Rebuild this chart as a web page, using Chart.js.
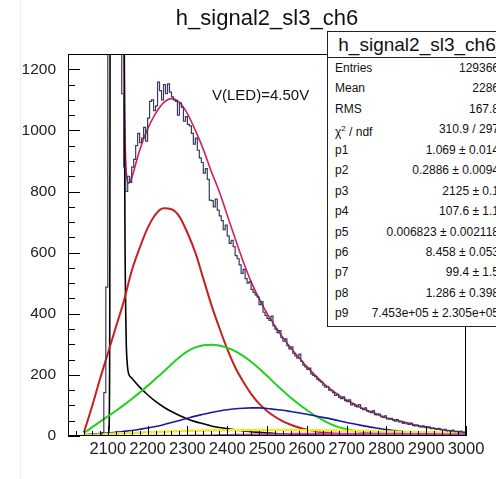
<!DOCTYPE html>
<html>
<head>
<meta charset="utf-8">
<script src="https://cdn.jsdelivr.net/npm/chart.js@4.4.0/dist/chart.umd.min.js"></script>
<style>
  html, body { margin: 0; padding: 0; background: #fff; overflow: hidden; }
  #page { position: relative; width: 496px; height: 479px; font-family: "Liberation Sans", Arial, sans-serif; color: #111; }
  #graphe { position: absolute; left: 0; top: 0; }
  #bord { position: absolute; left: 20px; top: 0; width: 0; height: 479px; border-left: 1px solid #ececec; }
  #titre { position: absolute; left: 0; top: 5px; width: 534px; text-align: center; font-size: 22px; }
  #vled { position: absolute; left: 212px; top: 86px; font-size: 15px; }
  #stats { position: absolute; left: 327px; top: 31px; width: 178px; height: 294px; border: 1px solid #222; background: #fff; }
  #stats .entete { height: 25px; line-height: 25px; border-bottom: 1px solid #222; text-align: center; font-size: 19px; }
  #stats .ligne { display: flex; justify-content: space-between; height: 20.45px; line-height: 20.45px; padding: 0 7px; font-size: 12px; }
</style>
</head>
<body>
<div id="page">
  <div id="bord"></div>
  <canvas id="graphe" width="496" height="479"></canvas>
  <div id="titre">h_signal2_sl3_ch6</div>
  <div id="vled">V(LED)=4.50V</div>
  <div id="stats"></div>
</div>
<script>
// === DONNEES ===
const xTicks = [2100, 2200, 2300, 2400, 2500, 2600, 2700, 2800, 2900, 3000];
const yTicks = [0, 200, 400, 600, 800, 1000, 1200];

// histogramme : bins de 5 a partir de 2085
const hDebut = 2085;
const hLargeur = 5;
const hValeurs = [
  0, 11, 142, 487, 20000, 20000, 20000, 20000, 20000, 20000, 9000,
  1120, 880, 800, 850, 830, 880, 905, 950, 990, 960,
  975, 1010, 965, 1040, 1095, 1100, 1065, 1080, 1158, 1130,
  1100, 1150, 1120, 1152, 1125, 1110, 1100, 1095, 1050, 1090,
  1075, 1030, 1045, 1020, 1015, 990, 955, 975, 935, 910,
  895, 860, 875, 840, 772, 770, 750, 775, 739, 720,
  705, 675, 690, 655, 630, 640, 620, 590, 580, 560,
  532, 545, 515, 500, 505, 480, 470, 462, 455, 430,
  440, 405, 395, 385, 378, 392, 360, 350, 338, 345,
  322, 310, 318, 296, 285, 292, 270, 262, 255, 268,
  244, 232, 226, 218, 222, 203, 198, 194, 185, 180,
  176, 166, 160, 162, 150, 148, 142, 133, 136, 126,
  122, 128, 116, 112, 118, 102, 104, 98, 95, 103,
  90, 86, 92, 81, 79, 76, 83, 70, 69, 72,
  63, 61, 66, 56, 55, 58, 52, 49, 54, 46,
  47, 41, 44, 40, 38, 42, 35, 33, 36, 31,
  30, 33, 28, 27, 30, 24, 26, 23, 22, 25,
  20, 19, 22, 17, 18, 16, 19, 14, 15, 13,
  16, 12
];

// composantes de l'ajustement, pas de 20 de 2040 a 3000
const xFit = [
  2040, 2060, 2080, 2100, 2120, 2140, 2160, 2180, 2200, 2220,
  2240, 2260, 2280, 2300, 2320, 2340, 2360, 2380, 2400, 2420,
  2440, 2460, 2480, 2500, 2520, 2540, 2560, 2580, 2600, 2620,
  2640, 2660, 2680, 2700, 2720, 2740, 2760, 2780, 2800, 2820,
  2840, 2860, 2880, 2900, 2920, 2940, 2960, 2980, 3000
];
const compRouge = [
  12, 95, 185, 270, 355, 440, 540, 615, 680, 725,
  745, 742, 718, 665, 600, 515, 430, 355, 285, 225,
  178, 138, 106, 82, 63, 48, 37, 28, 21, 16,
  12, 9, 7, 5, 4, 3, 2, 2, 1, 1,
  1, 0, 0, 0, 0, 0, 0, 0, 0
];
const compVert = [
  10, 28, 46, 64, 82, 101, 121, 142, 164, 187,
  210, 235, 258, 277, 290, 297, 299, 296, 289, 278,
  262, 243, 221, 197, 172, 148, 125, 104, 85, 67,
  52, 39, 29, 22, 17, 13, 9, 7, 5, 4,
  3, 2, 1, 1, 1, 0, 0, 0, 0
];
const compBleu = [
  4, 6, 8, 10, 12, 15, 18, 22, 26, 31,
  37, 44, 51, 58, 65, 71, 77, 82, 86, 89,
  91, 92, 92, 90, 87, 84, 80, 76, 71, 66,
  61, 56, 50, 44, 39, 34, 29, 25, 21, 18,
  15, 12, 10, 8, 6, 5, 4, 3, 2
];
const compJaune = [
  2, 3, 5, 6, 8, 9, 10, 11, 12, 13,
  14, 15, 16, 17, 17, 18, 18, 19, 19, 19,
  20, 20, 20, 20, 20, 20, 20, 19, 19, 19,
  18, 18, 18, 17, 17, 16, 16, 15, 15, 14,
  14, 13, 13, 12, 12, 11, 11, 10, 10
];
const compMagenta = [
  0, 0, 0, 0, 0, 0, 0, 0, 0, 1,
  1, 1, 1, 1, 2, 2, 2, 3, 3, 4,
  4, 5, 5, 6, 6, 6, 7, 7, 7, 7,
  7, 7, 7, 7, 7, 7, 7, 7, 7, 7,
  7, 6, 6, 6, 6, 6, 6, 6, 6
];

// fond : piedestal + exponentielle
const xNoir = [
  2100, 2103, 2105, 2107, 2124, 2136, 2140, 2143, 2146, 2149,
  2152, 2160, 2180, 2200, 2220, 2240, 2260, 2280, 2300, 2320,
  2340, 2360, 2380, 2400, 2420, 2440, 2460, 2480, 2500, 2520,
  2540, 2560, 2580, 2600, 2640, 2700, 2800, 2900, 3000
];
const yNoir = [
  0, 20, 400, 3000, 20000, 5000, 1800, 700, 330, 235,
  205, 190, 160, 135, 113, 95, 80, 67, 56, 47,
  40, 33, 28, 24, 20, 17, 14, 12, 10, 8,
  7, 6, 5, 4, 3, 2, 1, 0, 0
];

// ajustement total
const xTotal = [
  2139, 2142, 2145, 2148, 2153, 2160,
  2180, 2200, 2220, 2240, 2260, 2280, 2300, 2320, 2340, 2360,
  2380, 2400, 2420, 2440, 2460, 2480, 2500, 2520, 2540, 2560,
  2580, 2600, 2620, 2640, 2660, 2680, 2700, 2720, 2740, 2760,
  2780, 2800, 2820, 2840, 2860, 2880, 2900, 2920, 2940, 2960,
  2980, 3000
];
const yTotal = [
  1600, 1080, 900, 845, 827, 845,
  935, 1005, 1055, 1090, 1104, 1092, 1055, 1000, 938, 866,
  800, 723, 646, 572, 505, 450, 401, 360, 322, 288,
  257, 227, 200, 175, 153, 134, 118, 104, 91, 80,
  70, 60, 53, 47, 41, 34, 29, 25, 21, 17,
  14, 12
];

// boite de statistiques
const statsNoms = ["Entries", "Mean", "RMS", "χ<sup style='font-size:8px'>2</sup> / ndf", "p1", "p2", "p3", "p4", "p5", "p6", "p7", "p8", "p9"];
const statsValeurs = ["129366", "2286", "167.8", "310.9 / 297", "1.069 ± 0.014", "0.2886 ± 0.0094", "2125 ± 0.1",
  "107.6 ± 1.1", "0.006823 ± 0.002118", "8.458 ± 0.053", "99.4 ± 1.5", "1.286 ± 0.398", "7.453e+05 ± 2.305e+05"];

// === BOITE STATS ===
let html = `<div class="entete">h_signal2_sl3_ch6</div>`;
statsNoms.forEach((n, i) => {
  html += `<div class="ligne"><span>${n}</span><span>${statsValeurs[i]}</span></div>`;
});
document.getElementById("stats").innerHTML = html;

// === POINTS ===
const pts = (xs, ys) => xs.map((x, i) => ({ x, y: ys[i] }));
const histo = hValeurs.map((v, i) => ({ x: hDebut + i * hLargeur, y: v }));
histo.push({ x: hDebut + hValeurs.length * hLargeur, y: hValeurs[hValeurs.length - 1] });

function courbe(data, couleur, largeur) {
  return {
    data, borderColor: couleur, borderWidth: largeur, pointRadius: 0,
    fill: false, cubicInterpolationMode: "monotone"
  };
}

// === CADRE STYLE ROOT (ticks vers l'interieur) ===
const cadreRoot = {
  id: "cadreRoot",
  afterDatasetsDraw(chart) {
    const { ctx, chartArea: a, scales: { x, y } } = chart;
    ctx.save();
    ctx.strokeStyle = "#000";
    ctx.lineWidth = 1;
    ctx.strokeRect(Math.round(a.left) + 0.5, Math.round(a.top) + 0.5,
      Math.round(a.right - a.left) - 1, Math.round(a.bottom - a.top) - 1);
    ctx.beginPath();
    for (let v = 2020; v <= 3000; v += 20) {
      const px = Math.round(x.getPixelForValue(v)) + 0.5;
      const l = v % 100 === 0 ? 10 : 5;
      ctx.moveTo(px, a.bottom);
      ctx.lineTo(px, a.bottom - l);
    }
    for (let v = 0; v <= 1250; v += 50) {
      const py = Math.round(y.getPixelForValue(v)) + 0.5;
      const l = v % 200 === 0 ? 12 : 7;
      ctx.moveTo(a.left, py);
      ctx.lineTo(a.left + l, py);
    }
    ctx.stroke();
    ctx.restore();
  }
};

new Chart(document.getElementById("graphe"), {
  type: "line",
  data: {
    datasets: [
      { data: histo, borderColor: "#3a3a5e", borderWidth: 1.2, pointRadius: 0, stepped: "after", fill: false },
      courbe(pts(xFit, compMagenta), "#c040c0", 2),
      courbe(pts(xFit, compJaune), "#f0e830", 2.5),
      courbe(pts(xFit, compBleu), "#1a1aa0", 1.6),
      courbe(pts(xFit, compVert), "#22d022", 2),
      courbe(pts(xFit, compRouge), "#c81e1e", 2),
      courbe(pts(xNoir, yNoir), "#000000", 1.6),
      courbe(pts(xTotal, yTotal), "#d4205a", 1.6)
    ]
  },
  options: {
    responsive: false,
    animation: false,
    layout: { padding: { top: 54, right: 30, left: 0, bottom: 0 } },
    plugins: { legend: { display: false }, tooltip: { enabled: false } },
    scales: {
      x: {
        type: "linear", min: 2000, max: 3000,
        grid: { display: false }, border: { display: false },
        afterBuildTicks: s => { s.ticks = xTicks.map(v => ({ value: v })); },
        afterFit: s => { s.height = 43; },
        ticks: { padding: -4, color: "#222", maxRotation: 0, autoSkip: false,
          callback: v => String(v),
          font: { family: "Liberation Sans", size: 16.5 } }
      },
      y: {
        min: 0, max: 1250,
        grid: { display: false }, border: { display: false },
        afterBuildTicks: s => { s.ticks = yTicks.map(v => ({ value: v })); },
        afterFit: s => { s.width = 68; },
        ticks: { padding: 4, color: "#222", autoSkip: false,
          callback: v => String(v),
          font: { family: "Liberation Sans", size: 15.5 } }
      }
    }
  },
  plugins: [cadreRoot]
});
</script>
</body>
</html>
